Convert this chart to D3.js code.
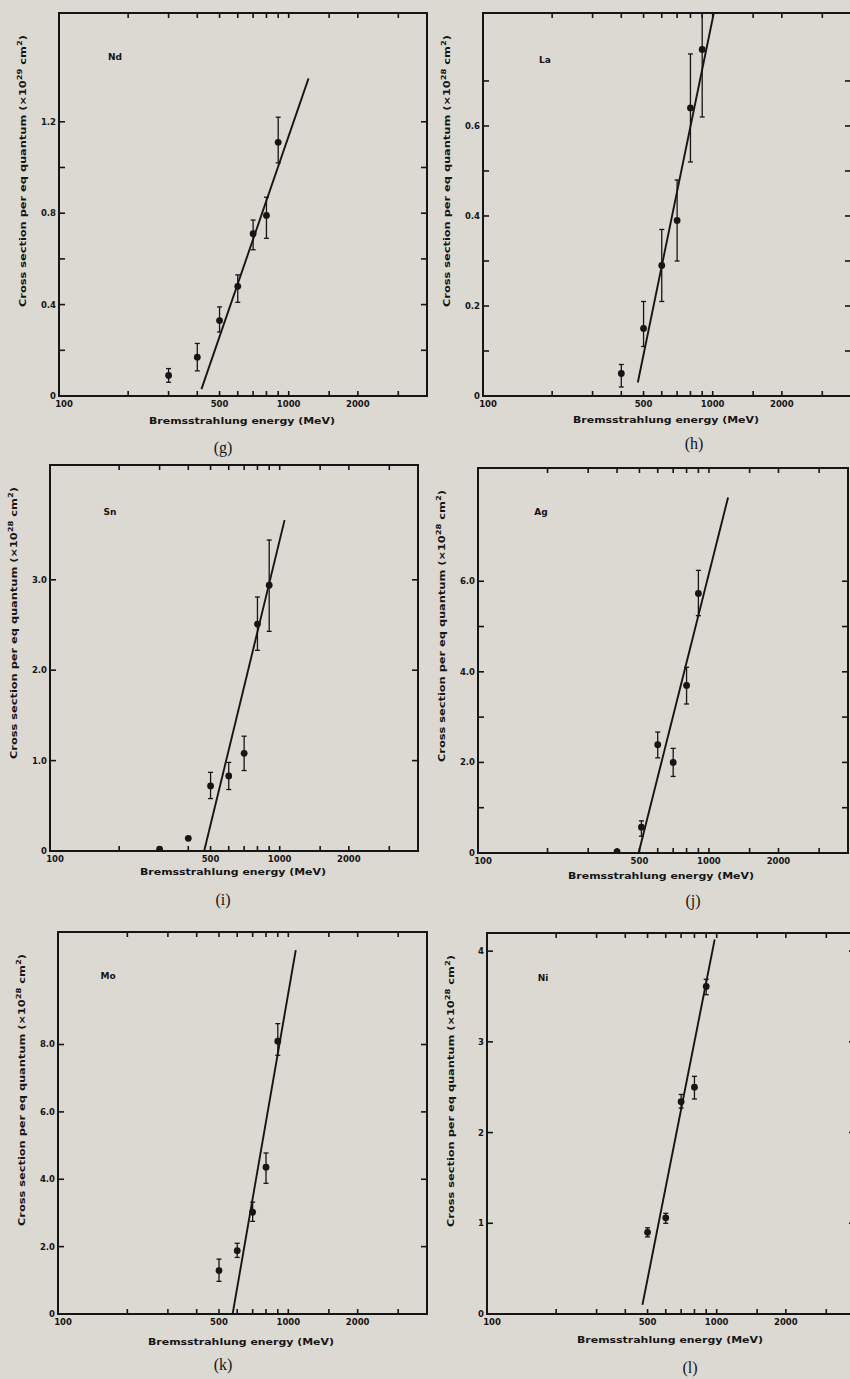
<!DOCTYPE html>
<meta charset="utf-8">
<style>
  body { margin: 0; background: #dcd8d2; }
  svg { display: block; }
  text { font-family: 'DejaVu Sans', sans-serif; fill: #151515; }
  .tlab { font-size: 8.5px; font-weight: bold; }
  .axlab { font-size: 9.5px; font-weight: bold; }
  .elem { font-size: 9px; font-weight: bold; }
  .cap { font-family: 'Liberation Serif', serif; font-size: 16px; }
  .frame { fill: none; stroke: #151515; stroke-width: 2; }
  .tick { stroke: #151515; stroke-width: 1.6; }
  .fit { stroke: #151515; stroke-width: 1.9; fill: none; }
  .err { stroke: #151515; stroke-width: 1.3; }
</style>
<script src="https://d3js.org/d3.v7.min.js"></script>

<svg width="850" height="1379"></svg>

<script>
// shared x axis (log, MeV)
var xTicks = [200, 300, 400, 500, 600, 700, 800, 900, 1000, 1500, 2000, 3000];
var xLabels = [100, 500, 1000, 2000];

// (g) Nd
var ndE = [300, 400, 500, 600, 700, 800, 900],
    ndY = [0.09, 0.17, 0.33, 0.48, 0.71, 0.79, 1.11],
    ndLo = [0.06, 0.11, 0.28, 0.41, 0.64, 0.69, 1.02],
    ndHi = [0.12, 0.23, 0.39, 0.53, 0.77, 0.87, 1.22],
    ndFit = [[417, 0.03], [1220, 1.39]],
    ndTicks = [0, 0.4, 0.8, 1.2], ndMinor = [0.2, 0.6, 1.0];

// (h) La
var laE = [400, 500, 600, 700, 800, 900],
    laY = [0.05, 0.15, 0.29, 0.39, 0.64, 0.77],
    laLo = [0.02, 0.11, 0.21, 0.30, 0.52, 0.62],
    laHi = [0.07, 0.21, 0.37, 0.48, 0.76, 0.90],
    laFit = [[472, 0.03], [1010, 0.85]],
    laTicks = [0, 0.2, 0.4, 0.6], laMinor = [0.1, 0.3, 0.5, 0.7];

// (i) Sn
var snE = [300, 400, 500, 600, 700, 800, 900],
    snY = [0.02, 0.14, 0.72, 0.83, 1.08, 2.51, 2.94],
    snLo = [null, null, 0.58, 0.68, 0.89, 2.22, 2.43],
    snHi = [null, null, 0.87, 0.98, 1.27, 2.81, 3.44],
    snFit = [[469, 0], [1050, 3.66]],
    snTicks = [0, 1, 2, 3], snMinor = [];

// (j) Ag
var agE = [400, 510, 600, 700, 800, 900],
    agY = [0.03, 0.57, 2.39, 2.0, 3.70, 5.73],
    agLo = [null, 0.37, 2.10, 1.69, 3.29, 5.24],
    agHi = [null, 0.71, 2.67, 2.31, 4.10, 6.24],
    agFit = [[496, 0], [1210, 7.85]],
    agTicks = [0, 2, 4, 6], agMinor = [1, 3, 5];

// (k) Mo
var moE = [500, 600, 700, 800, 900],
    moY = [1.29, 1.88, 3.02, 4.36, 8.10],
    moLo = [0.97, 1.68, 2.75, 3.88, 7.68],
    moHi = [1.63, 2.10, 3.32, 4.78, 8.62],
    moFit = [[573, 0], [1077, 10.8]],
    moTicks = [0, 2, 4, 6, 8], moMinor = [];

// (l) Ni
var niE = [500, 600, 700, 800, 900],
    niY = [0.90, 1.06, 2.34, 2.50, 3.61],
    niLo = [0.85, 1.00, 2.27, 2.37, 3.52],
    niHi = [0.95, 1.11, 2.42, 2.62, 3.69],
    niFit = [[475, 0.1], [980, 4.13]],
    niTicks = [0, 1, 2, 3, 4], niMinor = [];

var f1 = function(d) { return d === 0 ? "0" : d.toFixed(1); };
var f0 = function(d) { return String(d); };

var panels = [
  {cap: "(g)", el: "Nd", E: ndE, Y: ndY, lo: ndLo, hi: ndHi, fit: ndFit, ticks: ndTicks, minor: ndMinor, fmt: f1, exp: "29",
   box: [59, 13, 427, 396], yMax: 1.676, elPos: [56, 44], xlDy: 28, capPos: [223, 453]},
  {cap: "(h)", el: "La", E: laE, Y: laY, lo: laLo, hi: laHi, fit: laFit, ticks: laTicks, minor: laMinor, fmt: f1, exp: "28",
   box: [483, 13, 851, 396], yMax: 0.851, elPos: [62, 47], xlDy: 27, capPos: [694, 449]},
  {cap: "(i)", el: "Sn", E: snE, Y: snY, lo: snLo, hi: snHi, fit: snFit, ticks: snTicks, minor: snMinor, fmt: f1, exp: "28",
   box: [50, 465, 418, 851], yMax: 4.27, elPos: [60, 47], xlDy: 24, capPos: [223, 905]},
  {cap: "(j)", el: "Ag", E: agE, Y: agY, lo: agLo, hi: agHi, fit: agFit, ticks: agTicks, minor: agMinor, fmt: f1, exp: "28",
   box: [478, 468, 848, 853], yMax: 8.5, elPos: [63, 44], xlDy: 26, capPos: [693, 906]},
  {cap: "(k)", el: "Mo", E: moE, Y: moY, lo: moLo, hi: moHi, fit: moFit, ticks: moTicks, minor: moMinor, fmt: f1, exp: "28",
   box: [58, 932, 427, 1314], yMax: 11.34, elPos: [50, 44], xlDy: 31, capPos: [223, 1370]},
  {cap: "(l)", el: "Ni", E: niE, Y: niY, lo: niLo, hi: niHi, fit: niFit, ticks: niTicks, minor: niMinor, fmt: f0, exp: "28",
   box: [487, 933, 855, 1314], yMax: 4.2, elPos: [56, 45], xlDy: 29, capPos: [690, 1373]}
];

var svg = d3.select("svg");

panels.forEach(function(p, i) {
  var L = p.box[0], T = p.box[1], R = p.box[2], B = p.box[3];
  var x = d3.scaleLog().domain([100, 4000]).range([L, R]);
  var y = d3.scaleLinear().domain([0, p.yMax]).range([B, T]);
  var g = svg.append("g");

  g.append("clipPath").attr("id", "clip" + i)
    .append("rect").attr("x", L).attr("y", T).attr("width", R - L).attr("height", B - T);

  // inward ticks, all four sides
  var tk = g.append("g");
  xTicks.forEach(function(v) {
    tk.append("line").attr("class", "tick").attr("x1", x(v)).attr("x2", x(v)).attr("y1", B).attr("y2", B - 5);
    tk.append("line").attr("class", "tick").attr("x1", x(v)).attr("x2", x(v)).attr("y1", T).attr("y2", T + 5);
  });
  p.ticks.concat(p.minor).forEach(function(v) {
    if (v === 0) return;
    tk.append("line").attr("class", "tick").attr("x1", L).attr("x2", L + 6).attr("y1", y(v)).attr("y2", y(v));
    tk.append("line").attr("class", "tick").attr("x1", R).attr("x2", R - 6).attr("y1", y(v)).attr("y2", y(v));
  });

  g.append("rect").attr("class", "frame")
    .attr("x", L).attr("y", T).attr("width", R - L).attr("height", B - T);

  // tick labels
  g.selectAll(".xl").data(xLabels).enter().append("text")
    .attr("class", "tlab")
    .attr("x", function(d) { return d === 100 ? x(d) + 5 : x(d); })
    .attr("y", B + 11)
    .attr("text-anchor", "middle")
    .text(function(d) { return d; });

  g.selectAll(".yl").data(p.ticks).enter().append("text")
    .attr("class", "tlab")
    .attr("x", L - 3)
    .attr("y", function(d) { return y(d); })
    .attr("dy", "0.35em")
    .attr("text-anchor", "end")
    .text(p.fmt);

  // axis titles
  g.append("text").attr("class", "axlab")
    .attr("x", L + 183).attr("y", B + p.xlDy)
    .attr("text-anchor", "middle")
    .attr("textLength", 186).attr("lengthAdjust", "spacingAndGlyphs")
    .text("Bremsstrahlung energy (MeV)");

  var yl = g.append("text").attr("class", "axlab")
    .attr("transform", "translate(" + (L - 33) + "," + (T + 158) + ") rotate(-90)")
    .attr("text-anchor", "middle")
    .attr("textLength", 272).attr("lengthAdjust", "spacingAndGlyphs");
  yl.append("tspan").text("Cross section per eq quantum (\u00d710");
  yl.append("tspan").attr("dy", -4).attr("font-size", "7px").text(p.exp);
  yl.append("tspan").attr("dy", 4).text(" cm");
  yl.append("tspan").attr("dy", -4).attr("font-size", "7px").text("2");
  yl.append("tspan").attr("dy", 4).text(")");

  g.append("text").attr("class", "elem")
    .attr("x", L + p.elPos[0]).attr("y", T + p.elPos[1])
    .attr("text-anchor", "middle").attr("dy", "0.35em")
    .text(p.el);

  g.append("text").attr("class", "cap")
    .attr("x", p.capPos[0]).attr("y", p.capPos[1])
    .attr("text-anchor", "middle")
    .text(p.cap);

  // data
  var plot = g.append("g").attr("clip-path", "url(#clip" + i + ")");

  plot.append("path").attr("class", "fit")
    .attr("d", d3.line().x(function(d) { return x(d[0]); }).y(function(d) { return y(d[1]); })(p.fit));

  var pts = p.E.map(function(e, k) { return {e: e, v: p.Y[k], lo: p.lo[k], hi: p.hi[k]}; });
  var withErr = pts.filter(function(d) { return d.lo !== null; });

  plot.selectAll(".eb").data(withErr).enter().append("line")
    .attr("class", "err")
    .attr("x1", function(d) { return x(d.e); }).attr("x2", function(d) { return x(d.e); })
    .attr("y1", function(d) { return y(d.lo); }).attr("y2", function(d) { return y(d.hi); });
  ["lo", "hi"].forEach(function(k) {
    plot.selectAll(".cap" + k).data(withErr).enter().append("line")
      .attr("class", "err")
      .attr("x1", function(d) { return x(d.e) - 2.5; }).attr("x2", function(d) { return x(d.e) + 2.5; })
      .attr("y1", function(d) { return y(d[k]); }).attr("y2", function(d) { return y(d[k]); });
  });

  plot.selectAll(".pt").data(pts).enter().append("circle")
    .attr("cx", function(d) { return x(d.e); })
    .attr("cy", function(d) { return y(d.v); })
    .attr("r", 3.4)
    .attr("fill", "#151515");
});
</script>
